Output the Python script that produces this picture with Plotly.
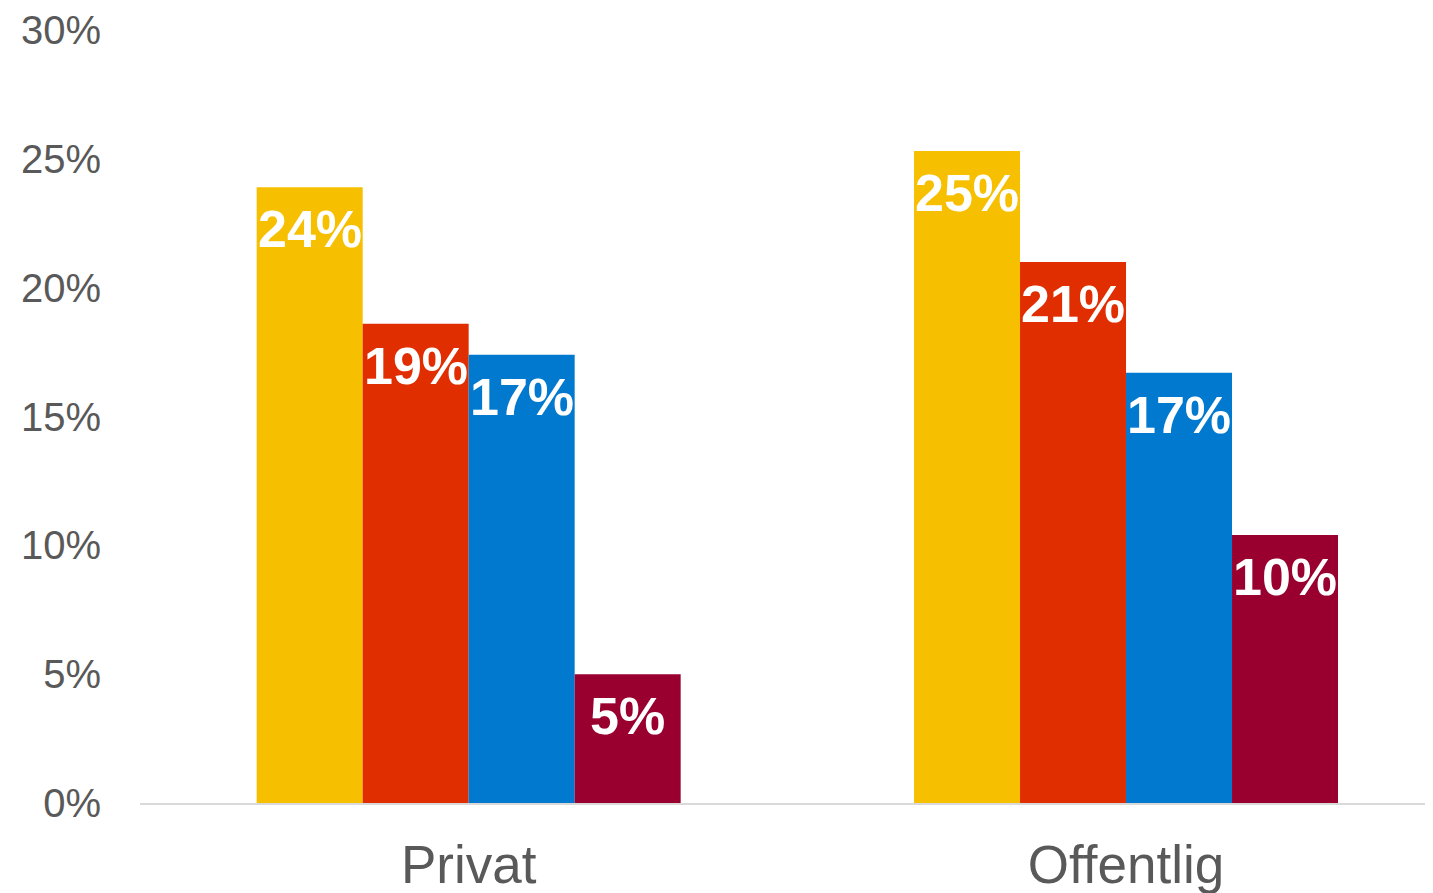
import plotly.graph_objects as go

categories = ["Privat", "Offentlig"]
series_names = ["A", "B", "C", "D"]
values = [
    [23.9, 25.3],
    [18.6, 21.0],
    [17.4, 16.7],
    [5.0, 10.4],
]
labels = [
    ["24%", "25%"],
    ["19%", "21%"],
    ["17%", "17%"],
    ["5%", "10%"],
]
colors = ["#F6BF00", "#E02E00", "#0079CF", "#990030"]
tick_vals = [0, 5, 10, 15, 20, 25, 30]
tick_text = ["0%", "5%", "10%", "15%", "20%", "25%", "30%"]

BARGAP = 0.355
n = len(series_names)
bar_w = (1 - BARGAP) / n

fig = go.Figure()
annotations = []
for i, (name, vals, lab, col) in enumerate(zip(series_names, values, labels, colors)):
    fig.add_trace(go.Bar(
        x=categories, y=vals, name=name,
        marker=dict(color=col, line=dict(width=0)),
    ))
    for j, (v, t) in enumerate(zip(vals, lab)):
        annotations.append(dict(
            x=j + (i - (n - 1) / 2) * bar_w, y=v, xref="x", yref="y",
            text=t, showarrow=False, yanchor="top", xanchor="center", yshift=-11,
            font=dict(family="Liberation Sans, Arial, sans-serif", size=52, color="white", weight="bold"),
        ))

fig.update_layout(
    barmode="group", bargap=BARGAP, bargroupgap=0,
    width=1425, height=885,
    margin=dict(l=132, r=0, t=22, b=90),
    paper_bgcolor="white", plot_bgcolor="white",
    showlegend=False,
    annotations=annotations,
    font=dict(family="Liberation Sans, Arial, sans-serif", color="#595959"),
)
fig.update_xaxes(
    range=[-0.5, 1.467], showgrid=False, showline=True, linecolor="#D9D9D9", linewidth=2,
    tickfont=dict(size=53, color="#595959"), ticks="", ticklabelstandoff=14,
)
fig.update_yaxes(
    range=[0, 30], tickvals=tick_vals, ticktext=tick_text, showgrid=False, zeroline=False,
    showline=False, tickfont=dict(size=40, color="#595959"), ticks="", ticklabelstandoff=38,
)
fig.write_html("out.html")
